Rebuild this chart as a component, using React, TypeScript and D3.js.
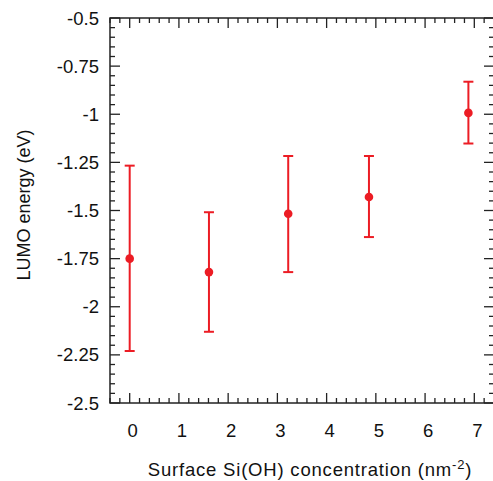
import React from "react";
import * as d3 from "d3";

const xValues = [0, 1.61, 3.22, 4.86, 6.88];
const yValues = [-1.75, -1.82, -1.517, -1.43, -0.993];
const yUpper = [-1.267, -1.509, -1.217, -1.217, -0.831];
const yLower = [-2.23, -2.13, -1.82, -1.638, -1.152];
const xTicks = [0, 1, 2, 3, 4, 5, 6, 7];
const yTicks = [-0.5, -0.75, -1, -1.25, -1.5, -1.75, -2, -2.25, -2.5];
const yTickLabels = ["-0.5", "-0.75", "-1", "-1.25", "-1.5", "-1.75", "-2", "-2.25", "-2.5"];

const W = 493;
const H = 481;
const L = 110;
const R = 494;
const T = 18;
const B = 403;
const RED = "#ec1c24";
const AX = "#222";
const FONT = "'Liberation Sans', Arial, Helvetica, sans-serif";

export default function App() {
  const x = d3.scaleLinear().domain([-0.4, 7.4]).range([L, R]);
  const y = d3.scaleLinear().domain([-2.5, -0.5]).range([B, T]);
  const xMinor = d3.range(-0.4, 7.41, 0.2).map((v) => +v.toFixed(2));
  const yMinor = d3.range(-2.5, -0.49, 0.05).map((v) => +v.toFixed(2));
  const isMajorX = (v: number) => Math.abs(v - Math.round(v)) < 1e-6;
  const isMajorY = (v: number) => Math.abs(v * 4 - Math.round(v * 4)) < 1e-6;
  const maj = 10;
  const min = 5;
  return (
    <svg width={W} height={H} style={{ position: "absolute", left: 0, top: 0 }}>
      <rect x={0} y={0} width={W} height={H} fill="#fff" />
      {xMinor.map((v, i) => {
        const len = isMajorX(v) ? maj : min;
        return (
          <g key={"xt" + i} stroke={AX} strokeWidth={1.3}>
            <line x1={x(v)} x2={x(v)} y1={B} y2={B - len} />
            <line x1={x(v)} x2={x(v)} y1={T} y2={T + len} />
          </g>
        );
      })}
      {yMinor.map((v, i) => {
        const len = isMajorY(v) ? maj : min;
        return (
          <g key={"yt" + i} stroke={AX} strokeWidth={1.3}>
            <line x1={L} x2={L + len} y1={y(v)} y2={y(v)} />
            <line x1={R} x2={R - len} y1={y(v)} y2={y(v)} />
          </g>
        );
      })}
      <rect x={L} y={T} width={R - L} height={B - T} fill="none" stroke={AX} strokeWidth={1.5} />
      {xTicks.map((v) => (
        <text key={"xl" + v} x={x(v) + 3} y={437} fontFamily={FONT} fontSize={18.5} textAnchor="middle" fill="#111">
          {v}
        </text>
      ))}
      {yTicks.map((v, i) => (
        <text key={"yl" + i} x={99} y={y(v) + 6.5} fontFamily={FONT} fontSize={18.5} textAnchor="end" fill="#111">
          {yTickLabels[i]}
        </text>
      ))}
      <text x={310} y={476} fontFamily={FONT} fontSize={18.5} letterSpacing={0.8} textAnchor="middle" fill="#111">
        Surface Si(OH) concentration (nm
        <tspan dy={-7} fontSize={13}>-2</tspan>
        <tspan dy={7}>)</tspan>
      </text>
      <text
        transform={`translate(30,${205}) rotate(-90)`}
        fontFamily={FONT}
        fontSize={18}
        textAnchor="middle"
        fill="#111"
      >
        LUMO energy (eV)
      </text>
      {xValues.map((v, i) => (
        <g key={"p" + i} stroke={RED} strokeWidth={2}>
          <line x1={x(v)} x2={x(v)} y1={y(yUpper[i])} y2={y(yLower[i])} />
          <line x1={x(v) - 5} x2={x(v) + 5} y1={y(yUpper[i])} y2={y(yUpper[i])} />
          <line x1={x(v) - 5} x2={x(v) + 5} y1={y(yLower[i])} y2={y(yLower[i])} />
          <circle cx={x(v)} cy={y(yValues[i])} r={4.3} fill={RED} stroke="none" />
        </g>
      ))}
    </svg>
  );
}
